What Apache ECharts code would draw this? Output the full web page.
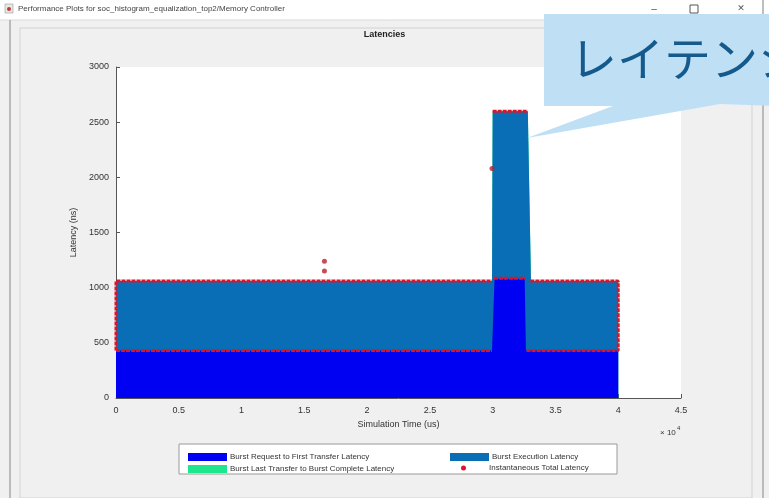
<!DOCTYPE html>
<html>
<head>
<meta charset="utf-8">
<script src="https://cdn.jsdelivr.net/npm/echarts@6/dist/echarts.min.js"></script>
<style>
html,body{margin:0;padding:0;background:#f0f0f0;}
#chart{width:769px;height:498px;}
</style>
</head>
<body>
<div id="chart"></div>
<script>
// ---- data (simulation time in us, latency in ns) ----
const timeUs = [0, 29950, 30000, 30150, 32550, 32650, 32800, 33050, 40000];
const requestLatency = [430, 430, 430, 1080, 1080, 430, 430, 430, 430];
const executionLatency = [630, 630, 2170, 1520, 1520, 2170, 2170, 630, 630];
const completeLatency = [0, 0, 0, 0, 0, 0, 0, 0, 0];
// instantaneous total latency traces (null = gap between traces)
const instTime =    [0, 0, 29950, null, 0, 29950, null, 30000, 32800, null, 30100, 32600, null, 32700, 40000, 40000, 32900];
const instLatency = [430, 1060, 1060, null, 430, 430, null, 2600, 2600, null, 1085, 1085, null, 430, 430, 1060, 1060];
const outlierTime = [16600, 16600, 29950];
const outlierLatency = [1150, 1240, 2080];
const xTicks = ['0', '0.5', '1', '1.5', '2', '2.5', '3', '3.5', '4', '4.5'];

const names = {
  req: 'Burst Request to First Transfer Latency',
  exec: 'Burst Execution Latency',
  comp: 'Burst Last Transfer to Burst Complete Latency',
  inst: 'Instantaneous Total Latency'
};
const pairs = (xs, ys) => xs.map((x, i) => (x === null ? [NaN, '-'] : [x, ys[i]]));
// stacked levels built from the component arrays
const level1 = requestLatency.slice();
const level2 = level1.map((v, i) => v + executionLatency[i]);
const level3 = level2.map((v, i) => v + completeLatency[i]);

const FONT = 'Liberation Sans, Arial, sans-serif';
const chart = echarts.init(document.getElementById('chart'), null, {renderer: 'canvas'});
const legendText = {fontSize: 8, color: '#333', fontFamily: FONT, padding: [0, 0, 0, -2]};

const option = {
  backgroundColor: '#f0f0f0',
  animation: false,
  title: {
    text: 'Latencies', left: 'center', top: 25,
    textStyle: {fontSize: 9, fontWeight: 'bold', color: '#222', fontFamily: FONT}
  },
  grid: {
    left: 116, top: 67, right: 88, bottom: 100,
    show: true, backgroundColor: '#ffffff', borderWidth: 0
  },
  xAxis: {
    type: 'value', min: 0, max: 45000, interval: 5000,
    name: 'Simulation Time (us)', nameLocation: 'middle', nameGap: 21,
    nameTextStyle: {fontSize: 9, color: '#333', fontFamily: FONT},
    axisLine: {lineStyle: {color: '#555', width: 1}},
    axisTick: {inside: true, length: 4, lineStyle: {color: '#555'}},
    axisLabel: {
      margin: 8, fontSize: 9, color: '#333', fontFamily: FONT,
      formatter: (v) => xTicks[Math.round(v / 5000)]
    },
    splitLine: {show: false}
  },
  yAxis: {
    type: 'value', min: 0, max: 3000, interval: 500,
    name: 'Latency (ns)', nameLocation: 'middle', nameGap: 36, nameRotate: 90,
    nameTextStyle: {fontSize: 9, color: '#333', fontFamily: FONT},
    axisLine: {show: true, lineStyle: {color: '#555', width: 1}},
    axisTick: {show: true, inside: true, length: 4, lineStyle: {color: '#555'}},
    axisLabel: {margin: 7, fontSize: 9, color: '#333', fontFamily: FONT, formatter: (v) => String(v)},
    splitLine: {show: false}
  },
  legend: [
    {
      orient: 'vertical', left: 183, top: 448, itemGap: 4,
      itemWidth: 39, itemHeight: 8, textStyle: legendText,
      data: [{name: names.req, icon: 'rect'}, {name: names.comp, icon: 'rect'}]
    },
    {
      left: 445, top: 448, itemWidth: 39, itemHeight: 8, textStyle: legendText,
      data: [{name: names.exec, icon: 'rect'}]
    },
    {
      left: 456, top: 459, itemWidth: 39, itemHeight: 5,
      textStyle: {fontSize: 8, color: '#333', fontFamily: FONT, padding: [0, 0, 0, 1]},
      data: [{name: names.inst, icon: 'circle'}]
    }
  ],
  series: [
    {
      name: names.comp, type: 'line', data: pairs(timeUs, level3), z: 2,
      showSymbol: false, color: '#1ee68c',
      lineStyle: {width: 0}, areaStyle: {color: '#1ee68c', opacity: 1}
    },
    {
      name: names.exec, type: 'line', data: pairs(timeUs, level2), z: 3,
      showSymbol: false, color: '#0a6eb6',
      lineStyle: {width: 0}, areaStyle: {color: '#0a6eb6', opacity: 1}
    },
    {
      name: names.req, type: 'line', data: pairs(timeUs, level1), z: 4,
      showSymbol: false, color: '#0000f2',
      lineStyle: {width: 0}, areaStyle: {color: '#0000f2', opacity: 1}
    },
    {
      name: names.inst, type: 'line', data: pairs(instTime, instLatency),
      showSymbol: false, connectNulls: false, color: '#dc1428', z: 5,
      lineStyle: {color: '#dc1428', width: 3, type: [4, 1]}
    },
    {
      name: names.inst, type: 'scatter', data: pairs(outlierTime, outlierLatency),
      symbol: 'circle', symbolSize: 5, color: '#dc1428', z: 6,
      itemStyle: {color: '#b8202c'}
    }
  ],
  graphic: [
    // window chrome
    {type: 'rect', z: -20, silent: true, shape: {x: 0, y: 0, width: 769, height: 20}, style: {fill: '#ffffff'}},
    {type: 'line', z: -19, silent: true, shape: {x1: 0, y1: 20, x2: 769, y2: 20}, style: {stroke: '#d9d9d9', lineWidth: 1}},
    {type: 'rect', z: -19, silent: true, shape: {x: 5, y: 4, width: 8, height: 9}, style: {fill: '#e8e8e8', stroke: '#999', lineWidth: 0.6}},
    {type: 'circle', z: -18, silent: true, shape: {cx: 9, cy: 9, r: 2}, style: {fill: '#c43a2a'}},
    {type: 'text', z: -18, silent: true, style: {x: 18, y: 9, text: 'Performance Plots for soc_histogram_equalization_top2/Memory Controller', fontSize: 8, fontFamily: FONT, fill: '#444', verticalAlign: 'middle'}},
    {type: 'text', z: -18, silent: true, style: {x: 654, y: 9, text: '\u2013', fontSize: 10, fontFamily: FONT, fill: '#555', align: 'center', verticalAlign: 'middle'}},
    {type: 'rect', z: -18, silent: true, shape: {x: 690, y: 5, width: 8, height: 8}, style: {fill: 'none', stroke: '#555', lineWidth: 1}},
    {type: 'text', z: -18, silent: true, style: {x: 741, y: 9, text: '\u2715', fontSize: 9, fontFamily: 'DejaVu Sans', fill: '#555', align: 'center', verticalAlign: 'middle'}},
    {type: 'line', z: -19, silent: true, shape: {x1: 10, y1: 20, x2: 10, y2: 498}, style: {stroke: '#a8a8a8', lineWidth: 1.5}},
    {type: 'line', z: -19, silent: true, shape: {x1: 763, y1: 0, x2: 763, y2: 498}, style: {stroke: '#a8a8a8', lineWidth: 1.5}},
    {type: 'rect', z: -19, silent: true, shape: {x: 20, y: 28, width: 732, height: 470}, style: {fill: '#f0f0f0', stroke: '#d2d2d2', lineWidth: 1}},
    // legend box
    {type: 'rect', z: -5, silent: true, shape: {x: 179, y: 444, width: 438, height: 30}, style: {fill: '#ffffff', stroke: '#9a9a9a', lineWidth: 1}},
    // exponent label
    {type: 'text', z: 10, silent: true, style: {x: 660, y: 433, text: '\u00d7 10', fontSize: 8, fontFamily: FONT, fill: '#333', verticalAlign: 'middle'}},
    {type: 'text', z: 10, silent: true, style: {x: 677, y: 428, text: '4', fontSize: 6, fontFamily: FONT, fill: '#333', verticalAlign: 'middle'}},
    // callout
    {type: 'polygon', z: 100, silent: true,
      shape: {points: [[544, 14], [775, 14], [775, 106], [720, 104], [527, 138], [613, 106], [544, 106]]},
      style: {fill: '#bfdff5'}},
    {type: 'text', z: 101, silent: true, style: {x: 570, y: 58, text: 'レイテンシ', fontSize: 47, fontFamily: 'Noto Sans CJK JP', fill: '#145a8c', verticalAlign: 'middle'}}
  ]
};
chart.setOption(option);
</script>
</body>
</html>
